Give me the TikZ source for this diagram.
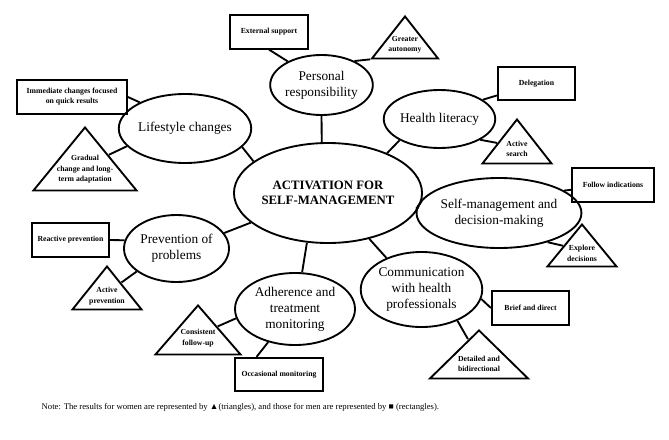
\documentclass[tikz,border=0pt]{standalone}
\usepackage{fontspec}
\setmainfont{Liberation Serif}
\usepackage{tikz}
\usetikzlibrary{shapes.geometric, positioning, calc}

% text that does not push the triangle out, set a bit lower
\newcommand{\tritext}[2][3.8pt]{\smash{\raisebox{-#1}{\smash{\makebox[0pt]{\begin{tabular}{@{}c@{}}#2\end{tabular}}}}}}

\begin{document}
\begin{tikzpicture}[x=0.75pt, y=-0.75pt,
  theme/.style={ellipse, draw, line width=1.4pt, inner sep=0pt, align=center, font=\fontsize{10}{12}\selectfont},
  core/.style={ellipse, draw, line width=1.4pt, inner sep=0pt, align=center, font=\fontsize{9.6}{11}\selectfont\bfseries, minimum width=114pt, minimum height=75pt},
  menbox/.style={rectangle, draw, line width=1.4pt, inner sep=1pt, align=center, font=\fontsize{5.8}{7.5}\selectfont\bfseries, minimum width=58pt, minimum height=25pt},
  womentri/.style={isosceles triangle, shape border rotate=90, isosceles triangle stretches, draw, line width=1.4pt, inner sep=0pt, font=\fontsize{5.8}{7.8}\selectfont\bfseries, anchor=apex},
  link/.style={line width=1.4pt}
]
  \useasboundingbox (0,0) rectangle (669,440);

  % central concept
  \node[core] (cen) at (328,193) {ACTIVATION FOR\\SELF-MANAGEMENT};

  % themes
  \node[theme, minimum width=69.75pt, minimum height=45pt]   (pers) at (321.5,85)  {Personal\\responsibility};
  \node[theme, minimum width=78pt,    minimum height=51.75pt] (life) at (185,128.5) {Lifestyle changes};
  \node[theme, minimum width=71.25pt, minimum height=43.5pt]  (hl)   at (439.5,119) {Health literacy};
  \node[theme, minimum width=94.5pt,  minimum height=52.5pt]  (sm)   at (499,213)   {Self-management and\\decision-making};
  \node[theme, minimum width=83.25pt, minimum height=56.25pt] (cm)   at (421.5,289.5) {Communication\\with health\\professionals};
  \node[theme, minimum width=90pt,    minimum height=54pt]    (adh)  at (295,309)   {Adherence and\\treatment\\monitoring};
  \node[theme, minimum width=78.75pt, minimum height=50.25pt] (prev) at (176.5,248.5) {Prevention of\\problems};

  % men (rectangles)
  \node[menbox] (ext) at (269,32)    {External support};
  \node[menbox, minimum width=82.5pt] (imm) at (72,97) {Immediate changes focused\\on quick results};
  \node[menbox] (del) at (536.5,83.5) {Delegation};
  \node[menbox, minimum width=61.5pt] (fol) at (613,185) {Follow indications};
  \node[menbox] (brf) at (530.5,308) {Brief and direct};
  \node[menbox, minimum width=66pt] (occ) at (279,374.5) {Occasional monitoring};
  \node[menbox] (rea) at (70.5,240)  {Reactive prevention};

  % women (triangles)
  \node[womentri, minimum width=49.5pt, minimum height=31.5pt] (ga)   at (405,14)  {\tritext[3pt]{Greater\\autonomy}};
  \node[womentri, minimum width=77.25pt, minimum height=47.25pt] (grad) at (85,125) {\tritext{Gradual\\change and long-\\term adaptation}};
  \node[womentri, minimum width=51.75pt, minimum height=33pt] (as)   at (517,117) {\tritext[3.4pt]{Active\\search}};
  \node[womentri, minimum width=51.75pt, minimum height=31.5pt] (exp)  at (582,222) {\tritext[4.4pt]{Explore\\decisions}};
  \node[womentri, minimum width=73.5pt, minimum height=36pt] (det)  at (479,328) {\tritext[6pt]{Detailed and\\bidirectional}};
  \node[womentri, minimum width=63.75pt, minimum height=36.75pt] (con)  at (198,303) {\tritext{Consistent\\follow-up}};
  \node[womentri, minimum width=51.75pt, minimum height=32.25pt] (ap)   at (107,264) {\tritext{Active\\prevention}};

  % spokes
  \draw[link] (cen.97)    -- (pers.south);
  \draw[link] (cen.157)   -- (life.-18);
  \draw[link] (cen.34)    -- (hl.208);
  \draw[link] (cen.-5)    -- (sm.177);
  \draw[link] (cen.-48)   -- (cm.138);
  \draw[link] (cen.-113)  -- (adh.79);
  \draw[link] (cen.201)   -- (prev.18);

  % leaves
  \draw[link] (pers.145)  -- (ext.south);
  \draw[link] (pers.36)   -- (ga.left corner);
  \draw[link] (life.150)  -- (imm.east);
  \draw[link] (life.197)  -- (grad);
  \draw[link] (hl.24)     -- (del);
  \draw[link] (hl.-27)    -- (as);
  \draw[link] (sm.19)     -- (fol);
  \draw[link] (sm.-31)    -- (exp);
  \draw[link] (cm.-9)     -- (brf.west);
  \draw[link] (cm.-41)    -- (det);
  \draw[link] (adh.189)   -- (con);
  \draw[link] (adh.231)   -- ($(occ.north west)!0.25!(occ.north east)$);
  \draw[link] (prev.171)  -- (rea.east);
  \draw[link] (prev.210)  -- (ap);

  \node[anchor=west, font=\fontsize{6.5}{8}\selectfont] (note) at (37,407)
    {Note: The results for women are represented by ▲(triangles), and those for men are represented by ■ (rectangles).};
\end{tikzpicture}
\end{document}
